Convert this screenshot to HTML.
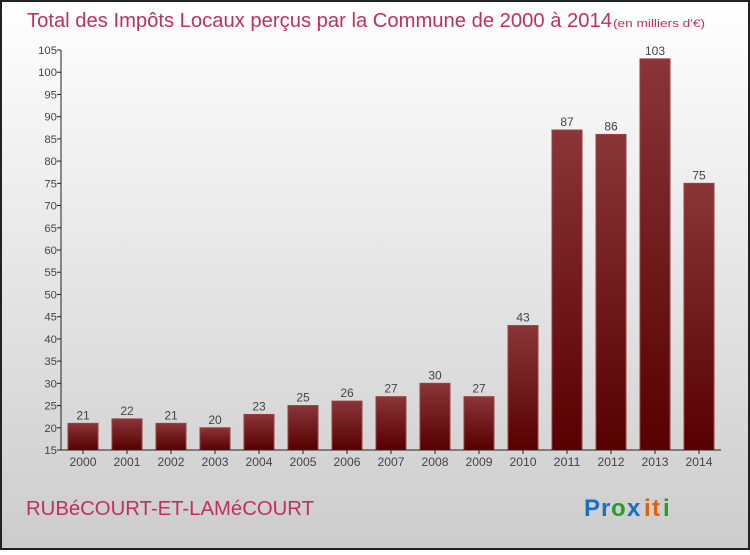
<!DOCTYPE html>
<html><head><meta charset="utf-8"><style>
html,body{margin:0;padding:0;}
body{width:750px;height:550px;overflow:hidden;font-family:"Liberation Sans",sans-serif;}
</style></head><body>
<svg width="750" height="550" xmlns="http://www.w3.org/2000/svg">
<defs>
<linearGradient id="bg" x1="0" y1="0" x2="0" y2="1"><stop offset="0" stop-color="#ffffff"/><stop offset="1" stop-color="#cccccc"/></linearGradient>
<linearGradient id="bar" x1="0" y1="0" x2="0" y2="1"><stop offset="0" stop-color="#8a3538"/><stop offset="1" stop-color="#560000"/></linearGradient>
</defs>
<rect x="1" y="1" width="748" height="548" fill="url(#bg)" stroke="#222" stroke-width="2"/>
<text x="27" y="27" font-size="20" fill="#c0305a" textLength="585" lengthAdjust="spacingAndGlyphs">Total des Impôts Locaux perçus par la Commune de 2000 à 2014</text>
<text x="613" y="27" font-size="11" fill="#c0305a" textLength="92" lengthAdjust="spacingAndGlyphs">(en milliers d'€)</text>
<g id="plot"></g>
<text x="26" y="515" font-size="20" fill="#c0305a" textLength="288" lengthAdjust="spacingAndGlyphs">RUBéCOURT-ET-LAMéCOURT</text>
<g font-size="24" font-weight="bold">
<text x="584" y="516" fill="#1a6fc0">P</text><text x="601" y="516" fill="#1a6fc0">r</text><text x="611" y="516" fill="#2a9a2a">o</text><text x="627" y="516" fill="#1a6fc0">x</text><text x="644" y="516" fill="#e06010">i</text><text x="652" y="516" fill="#e06010">t</text><text x="663" y="516" fill="#2a9a2a">i</text>
</g>
</svg>
<script>
const categories=["2000","2001","2002","2003","2004","2005","2006","2007","2008","2009","2010","2011","2012","2013","2014"];
const values=[21,22,21,20,23,25,26,27,30,27,43,87,86,103,75];
const yTicks=[15,20,25,30,35,40,45,50,55,60,65,70,75,80,85,90,95,100,105];
const NS="http://www.w3.org/2000/svg";
const g=document.getElementById('plot');
const x0=61,x1=721,y0=450,y1=50,ymin=15,ymax=105;
const yS=v=>y0-(v-ymin)*(y0-y1)/(ymax-ymin);
const step=(x1-x0)/categories.length;
const xS=i=>x0+step*i+step/2;
function mk(t,a){const e=document.createElementNS(NS,t);for(const k in a)e.setAttribute(k,a[k]);g.appendChild(e);return e;}
yTicks.forEach(v=>{
 const l=mk('line',{x1:x0-4,x2:x0,y1:yS(v),y2:yS(v),stroke:'#222'});
 
 
 const t=mk('text',{x:x0-4,y:yS(v)+4,'text-anchor':'end','font-size':'11',fill:'#444',textLength:String(v).length*6.3,lengthAdjust:'spacingAndGlyphs'});
 t.textContent=v;
 
 
});
categories.forEach((c,i)=>{
 const cx=xS(i),bw=30;
 const r=mk('rect',{x:cx-bw/2,y:yS(values[i]),width:bw,height:y0-yS(values[i]),fill:'url(#bar)',stroke:'#9a4044','stroke-width':'1'});
 
 
 const vt=mk('text',{x:cx,y:yS(values[i])-4,'text-anchor':'middle','font-size':'12',fill:'#444'});
 vt.textContent=values[i];
 
 
 const tk=mk('line',{x1:cx,x2:cx,y1:y0,y2:y0+4,stroke:'#222'});
 
 
 const xt=mk('text',{x:cx,y:y0+16,'text-anchor':'middle','font-size':'12',fill:'#444',textLength:'27',lengthAdjust:'spacingAndGlyphs'});
 xt.textContent=c;
 
 
});
const ya=mk('line',{x1:x0,x2:x0,y1:y1,y2:y0,stroke:'#222'});


const xa=mk('line',{x1:x0,x2:x1,y1:y0,y2:y0,stroke:'#222'});


</script>
</body></html>
